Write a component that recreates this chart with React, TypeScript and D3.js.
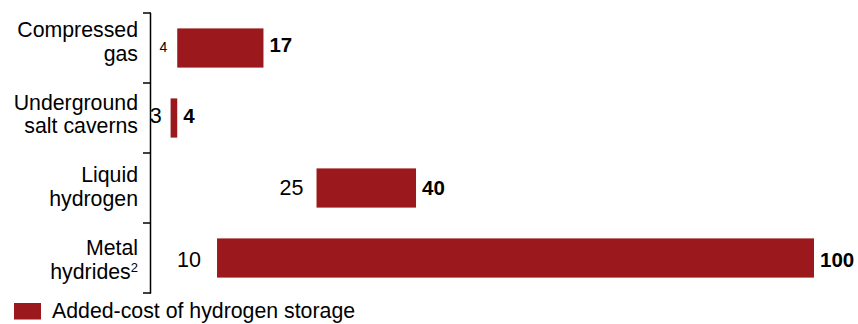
import React from "react";
import * as d3 from "d3";

const categories = ["Compressed gas", "Underground salt caverns", "Liquid hydrogen", "Metal hydrides"];
const categoryLines = [["Compressed", "gas"], ["Underground", "salt caverns"], ["Liquid", "hydrogen"], ["Metal", "hydrides"]];
const categorySup = ["", "", "", "2"];
const minValues = [4, 3, 25, 10];
const maxValues = [17, 4, 40, 100];
const legendLabel = "Added-cost of hydrogen storage";

const W = 858, H = 324;
const BAR = "#9B191C";
const FONT = "Arial, 'Liberation Sans', Helvetica, sans-serif";
const minLabelSize = [14, 21.5, 21.5, 21.5];
const minLabelGap = [10, 9, 13, 16];

export default function App() {
  const x = d3.scaleLinear().domain([0, 100]).range([150.7, 814]);
  const y = d3.scaleBand().domain(categories).range([13, 293]).paddingInner(0.44).paddingOuter(0.22);
  const labelY = d3.scalePoint().domain(categories).range([37, 255]);
  const valueY = d3.scalePoint().domain(categories).range([51.5, 266.5]);
  const step = y.step();
  const tickYs = d3.range(categories.length + 1).map(i => 13 + i * step);
  return (
    <svg width={W} height={H} style={{ position: "absolute", left: 0, top: 0, fontFamily: FONT }}>
      <line x1={150.5} x2={150.5} y1={13} y2={293.5} stroke="#000" strokeWidth={1.5} />
      {tickYs.map((t, i) => (
        <line key={i} x1={143} x2={151} y1={t} y2={t} stroke="#000" strokeWidth={1.5} />
      ))}
      {categories.map((c, i) => {
        const x0 = x(minValues[i]);
        const x1 = x(maxValues[i]);
        const ly = labelY(c) as number;
        const vy = valueY(c) as number;
        return (
          <g key={c}>
            <text x={138} y={ly} textAnchor="end" fontSize={21.3} fill="#000">{categoryLines[i][0]}</text>
            <text x={138} y={ly + 23.5} textAnchor="end" fontSize={21.3} fill="#000">
              {categoryLines[i][1]}
              {categorySup[i] ? <tspan fontSize={13} dy={-7}>{categorySup[i]}</tspan> : null}
            </text>
            <rect x={x0} y={y(c) as number} width={x1 - x0} height={y.bandwidth()} fill={BAR} />
            <text x={x0 - minLabelGap[i]} y={vy} textAnchor="end" fontSize={minLabelSize[i]} fill="#000">{minValues[i]}</text>
            <text x={x1 + 6} y={vy} textAnchor="start" fontSize={20.5} fontWeight="bold" fill="#000">{maxValues[i]}</text>
          </g>
        );
      })}
      <rect x={14} y={303} width={27} height={16.5} fill={BAR} />
      <text x={52} y={318} fontSize={21.3} fill="#000">{legendLabel}</text>
    </svg>
  );
}
